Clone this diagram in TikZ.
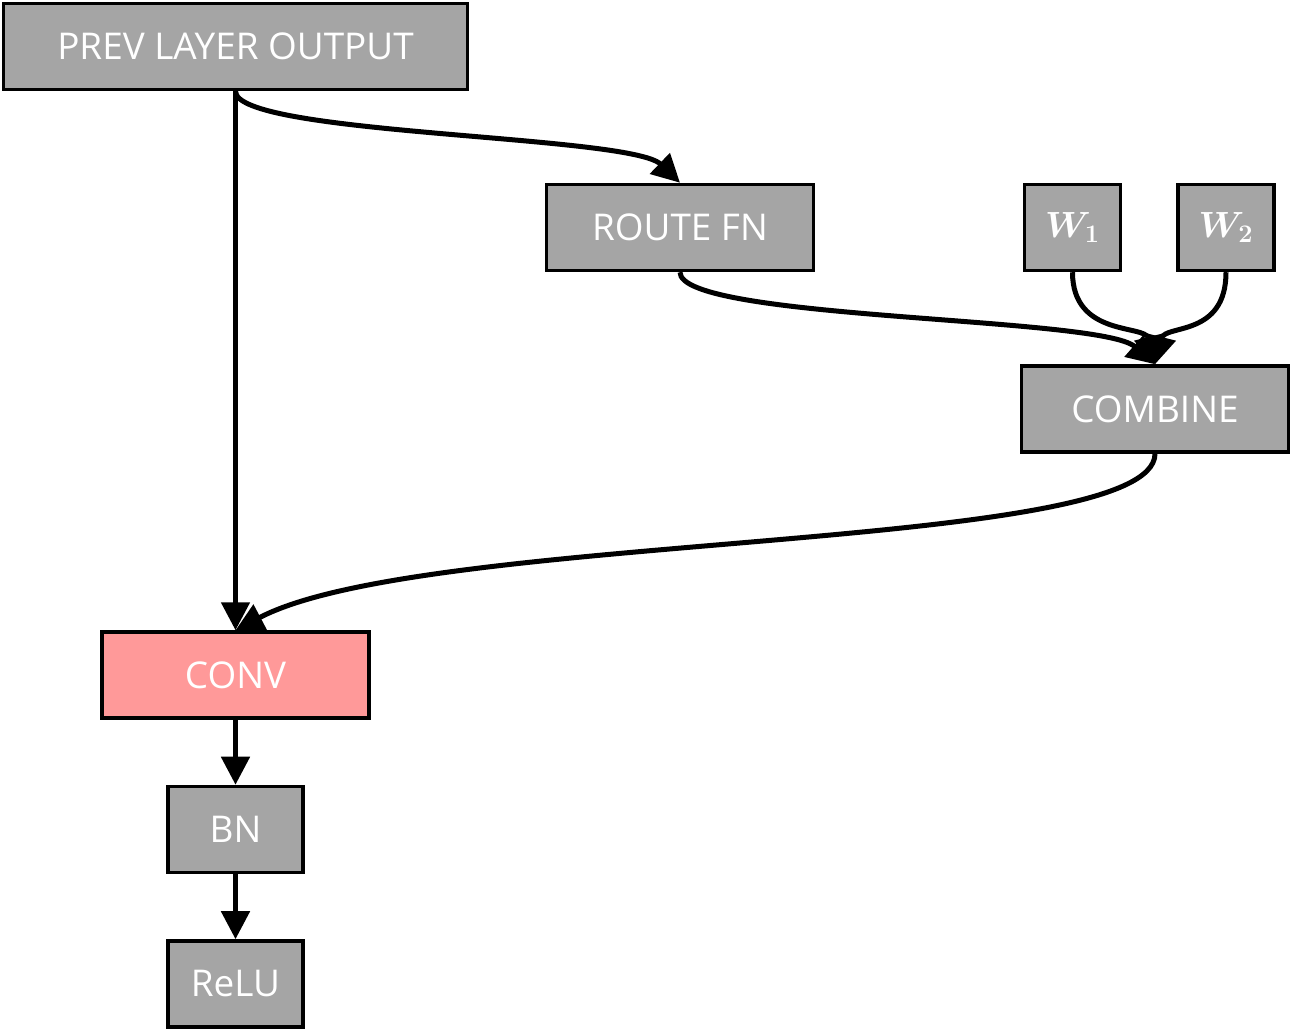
\documentclass[tikz,border=0pt]{standalone}
\usepackage{amsmath}
\usepackage{bm}
\usepackage{fontspec}
\setmainfont{Open Sans}
\usepackage{tikz}
\usetikzlibrary{arrows.meta,positioning}
\usepackage{xcolor}
\definecolor{boxgray}{HTML}{A5A5A5}
\definecolor{convpink}{HTML}{FF9999}
\tikzset{
  layerbox/.style={
    draw=black,
    fill=boxgray,
    line width=0.07cm,
    minimum width=5.34cm,
    minimum height=1.72cm,
    text=white,
    align=center,
    font=\fontsize{21}{25}\selectfont
  },
  weightbox/.style={
    layerbox,
    minimum width=1.92cm
  },
  convbox/.style={
    layerbox,
    fill=convpink
  },
  flow/.style={
    -{Triangle[length=0.56cm,width=0.56cm]},
    line width=0.1cm,
    draw=black
  }
}

\begin{document}
\begin{tikzpicture}[x=0.02cm,y=-0.02cm,node distance=1.3cm]
\useasboundingbox (0,0) rectangle (1292,1030);
\node[layerbox, minimum width=9.28cm] (prev) at (235.5,46.5) {PREV LAYER OUTPUT};
\node[layerbox] (route) at (680,227.5) {ROUTE FN};
\node[weightbox] (wone) at (1072.5,227.5) {$\bm{W_1}$};
\node[weightbox] (wtwo) at (1226,227.5) {$\bm{W_2}$};
\node[layerbox] (combine) at (1155,409) {COMBINE};
\node[convbox] (conv) at (235.5,675) {CONV};
\node[layerbox, minimum width=2.7cm, below=of conv] (bn) {BN};
\node[layerbox, minimum width=2.7cm, below=of bn] (relu) {ReLU};
\draw[flow] (prev.south) .. controls +(0,44) and +(-50,-48) .. (route.north);
\draw[flow] (prev.south) -- (conv.north);
\draw[flow] (route.south) .. controls +(0,48) and +(-55,-48) .. (combine.north);
\draw[flow] (wone.south) .. controls +(0,65) and +(-10,-40) .. (combine.north);
\draw[flow] (wtwo.south) .. controls +(0,65) and +(10,-40) .. (combine.north);
\draw[flow] (combine.south) .. controls +(0,100) and +(190,-100) .. (conv.north);
\draw[flow] (conv) -- (bn);
\draw[flow] (bn) -- (relu);
\end{tikzpicture}
\end{document}
